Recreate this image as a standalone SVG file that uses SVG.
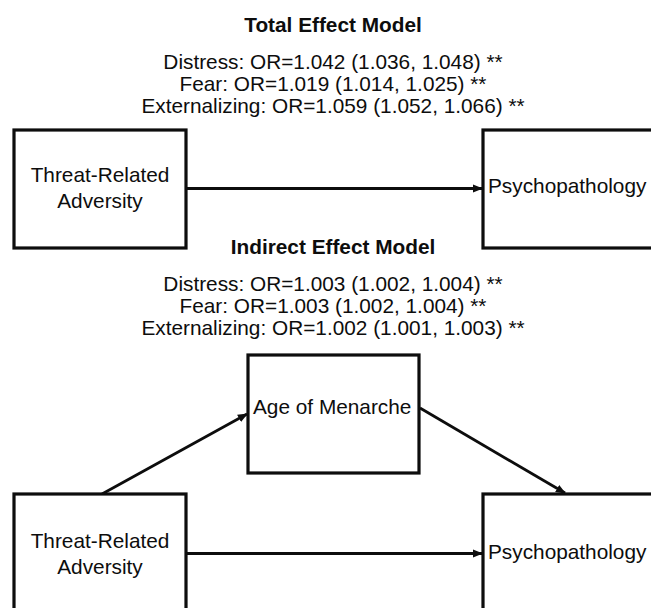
<svg xmlns="http://www.w3.org/2000/svg" width="651" height="608" viewBox="0 0 651 608">
<defs>
<style>
text{font-family:"Liberation Sans",Arial,sans-serif;font-size:20.8px;fill:#0d0d0d}
.t{font-weight:bold;text-anchor:middle}
.c{text-anchor:middle}
.box{fill:#fff;stroke:#0d0d0d;stroke-width:3.2}
.ln{stroke:#0d0d0d;stroke-width:2.8;fill:none;marker-end:url(#ah)}
</style>
<marker id="ah" viewBox="0 0 10 10" refX="9" refY="5" markerWidth="3.6" markerHeight="3.6" orient="auto" markerUnits="strokeWidth">
<path d="M0,1 L10,5 L0,9 Z" fill="#0d0d0d"/>
</marker>
</defs>
<rect width="651" height="608" fill="#fff"/>
<g id="total-labels">
<text class="t" x="333" y="32">Total Effect Model</text>
<text class="c" x="333" y="69">Distress: OR=1.042 (1.036, 1.048) **</text>
<text class="c" x="333" y="91">Fear: OR=1.019 (1.014, 1.025) **</text>
<text class="c" x="333" y="113">Externalizing: OR=1.059 (1.052, 1.066) **</text>
</g>
<g id="indirect-labels">
<text class="t" x="333" y="254">Indirect Effect Model</text>
<text class="c" x="333" y="291">Distress: OR=1.003 (1.002, 1.004) **</text>
<text class="c" x="333" y="313">Fear: OR=1.003 (1.002, 1.004) **</text>
<text class="c" x="333" y="335">Externalizing: OR=1.002 (1.001, 1.003) **</text>
</g>
<g id="connectors">
<line class="ln" x1="186" y1="188.5" x2="482" y2="188.5"/>
<line class="ln" x1="186" y1="553.5" x2="482" y2="553.5"/>
<line class="ln" x1="102" y1="494" x2="247" y2="414"/>
<line class="ln" x1="420" y1="408" x2="565" y2="493"/>
</g>
<g id="threat1">
<rect class="box" x="14" y="130" width="172" height="118"/>
<text class="c" x="100" y="182">Threat-Related</text>
<text class="c" x="100" y="208">Adversity</text>
</g>
<g id="psych1">
<rect class="box" x="483" y="130" width="180" height="118"/>
<text x="488" y="193">Psychopathology</text>
</g>
<g id="menarche">
<rect class="box" x="248" y="355" width="171" height="118"/>
<text x="253" y="414">Age of Menarche</text>
</g>
<g id="threat2">
<rect class="box" x="14" y="494" width="172" height="130"/>
<text class="c" x="100" y="548">Threat-Related</text>
<text class="c" x="100" y="574">Adversity</text>
</g>
<g id="psych2">
<rect class="box" x="483" y="494" width="180" height="130"/>
<text x="488" y="559">Psychopathology</text>
</g>
</svg>
